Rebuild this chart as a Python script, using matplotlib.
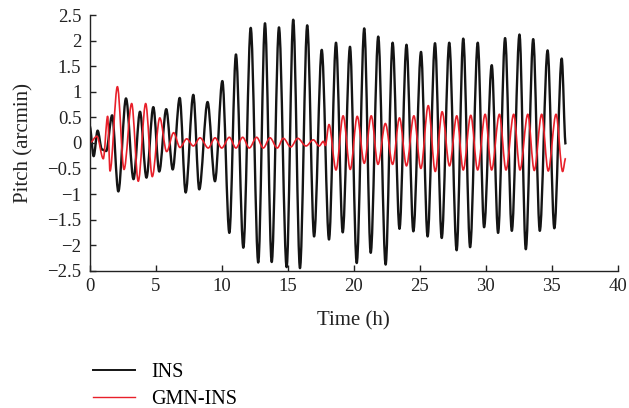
import matplotlib
matplotlib.use("Agg")
import matplotlib.pyplot as plt
from matplotlib.path import Path
from matplotlib.patches import PathPatch
from matplotlib.lines import Line2D

plt.rcParams['font.family'] = ['Liberation Serif', 'DejaVu Serif']

# INS pitch error: successive extremes (time h, arcmin)
ins_t = [0.0, 0.3, 0.6, 0.93, 1.25, 1.7, 2.17, 2.75, 3.32, 3.81, 4.3, 4.82, 5.27, 5.8,
         6.29, 6.82, 7.27, 7.85, 8.3, 8.93, 9.49, 10.05, 10.58, 11.08, 11.64, 12.2,
         12.77, 13.28, 13.79, 14.34, 14.92, 15.42, 15.93, 16.48, 17.0, 17.58, 18.13,
         18.66, 19.17, 19.72, 20.23, 20.8, 21.29, 21.86, 22.42, 22.95, 23.47, 24.0,
         24.52, 25.1, 25.6, 26.16, 26.67, 27.24, 27.8, 28.3, 28.82, 29.4, 29.88,
         30.46, 30.94, 31.47, 31.98, 32.56, 33.04, 33.6, 34.1, 34.69, 35.2, 35.76, 36.06]
ins_v = [0.33, -0.26, 0.24, -0.13, -0.16, 0.54, -0.95, 0.87, -0.71, 0.61, -0.68, 0.70,
         -0.56, 0.66, -0.52, 0.88, -0.97, 0.94, -0.91, 0.80, -0.75, 1.21, -1.76, 1.73,
         -2.05, 2.25, -2.34, 2.34, -2.33, 2.26, -2.43, 2.41, -2.45, 2.30, -1.83, 1.82,
         -1.89, 1.96, -1.75, 1.88, -2.35, 2.24, -2.15, 2.08, -2.38, 1.96, -1.68, 1.92,
         -1.73, 1.78, -1.83, 1.95, -1.86, 1.96, -2.10, 2.04, -2.04, 1.96, -1.65, 1.52,
         -1.76, 2.05, -1.72, 2.12, -2.08, 2.03, -1.72, 1.81, -1.67, 1.65, -0.03]

# GMN-INS pitch error extremes
gmn_t = [0.0, 0.55, 1.03, 1.36, 1.54, 2.1, 2.6, 3.18, 3.68, 4.24, 4.74, 5.31, 5.83, 6.36,
         6.84, 7.35, 7.85, 8.36, 8.98, 9.5, 10.0, 10.58, 11.08, 11.59, 12.09, 12.65,
         13.15, 13.66, 14.21, 14.67, 15.23, 15.76, 16.39, 16.94, 17.39, 17.7, 17.85,
         18.13, 18.66, 19.2, 19.74, 20.27, 20.8, 21.33, 21.84, 22.4, 22.95, 23.47, 24.0,
         24.56, 25.09, 25.65, 26.18, 26.7, 27.26, 27.81, 28.3, 28.87, 29.39, 29.96,
         30.45, 31.04, 31.54, 32.12, 32.6, 33.19, 33.68, 34.24, 34.74, 35.33, 35.83, 36.06]
gmn_v = [0.0, 0.13, -0.31, 0.52, -0.55, 1.10, -0.52, 0.77, -0.75, 0.77, -0.66, 0.49,
         -0.17, 0.20, -0.09, 0.08, -0.06, 0.10, -0.10, 0.10, -0.10, 0.11, -0.10, 0.11,
         -0.10, 0.11, -0.10, 0.10, -0.10, 0.09, -0.08, 0.09, -0.06, 0.06, -0.06, 0.03,
         -0.05, 0.36, -0.53, 0.53, -0.52, 0.52, -0.40, 0.53, -0.42, 0.38, -0.42, 0.49,
         -0.45, 0.53, -0.50, 0.73, -0.56, 0.61, -0.45, 0.53, -0.53, 0.54, -0.53, 0.56,
         -0.53, 0.56, -0.53, 0.56, -0.53, 0.56, -0.54, 0.56, -0.55, 0.56, -0.56, -0.30]

x_ticks = [0, 5, 10, 15, 20, 25, 30, 35, 40]
y_ticks = [-2.5, -2, -1.5, -1, -0.5, 0, 0.5, 1, 1.5, 2, 2.5]
y_labels = ['\u22122.5', '\u22122', '\u22121.5', '\u22121', '\u22120.5', '0',
            '0.5', '1', '1.5', '2', '2.5']
series_names = ['INS', 'GMN-INS']


def smooth_path(t, v):
    """Curve through the extremes with horizontal tangents at each one."""
    verts = [(t[0], v[0])]
    codes = [Path.MOVETO]
    for i in range(1, len(t)):
        dt = t[i] - t[i - 1]
        verts += [(t[i - 1] + dt / 3, v[i - 1]), (t[i] - dt / 3, v[i]), (t[i], v[i])]
        codes += [Path.CURVE4] * 3
    return Path(verts, codes)


fig = plt.figure(figsize=(6.29, 4.08), dpi=100)
ax = fig.add_axes([0.1426, 0.3365, 0.8394, 0.6265])

black = '#141414'
red = '#e8202a'
ax.add_patch(PathPatch(smooth_path(ins_t, ins_v), fill=False, edgecolor=black,
                       lw=1.7, joinstyle='round'))
ax.add_patch(PathPatch(smooth_path(gmn_t, gmn_v), fill=False, edgecolor=red,
                       lw=1.2, joinstyle='round'))

ax.set_xlim(0, 40)
ax.set_ylim(-2.5, 2.5)
ax.set_xticks(x_ticks)
ax.set_xticklabels([str(x) for x in x_ticks])
ax.set_yticks(y_ticks)
ax.set_yticklabels(y_labels)
for s in ['top', 'right']:
    ax.spines[s].set_visible(False)
for s in ['left', 'bottom']:
    ax.spines[s].set_linewidth(1.0)
    ax.spines[s].set_color('#222222')
ax.tick_params(direction='in', length=4, width=1.0, labelsize=13.5, pad=5,
               colors='#222222')
ax.tick_params(axis='y', pad=6)
ax.set_xlabel('Time (h)', fontsize=15, labelpad=12, color='#222222')
ax.set_ylabel('Pitch (arcmin)', fontsize=15, labelpad=10, color='#222222')

handles = [Line2D([], [], color=black, lw=1.4), Line2D([], [], color=red, lw=1.0)]
fig.legend(handles, series_names, loc='center left', bbox_to_anchor=(0.148, 0.054),
           frameon=False, fontsize=14.5, handlelength=2.1, handletextpad=0.8,
           borderpad=0, borderaxespad=0, labelspacing=0.4)

fig.savefig('out.png', dpi=100)
